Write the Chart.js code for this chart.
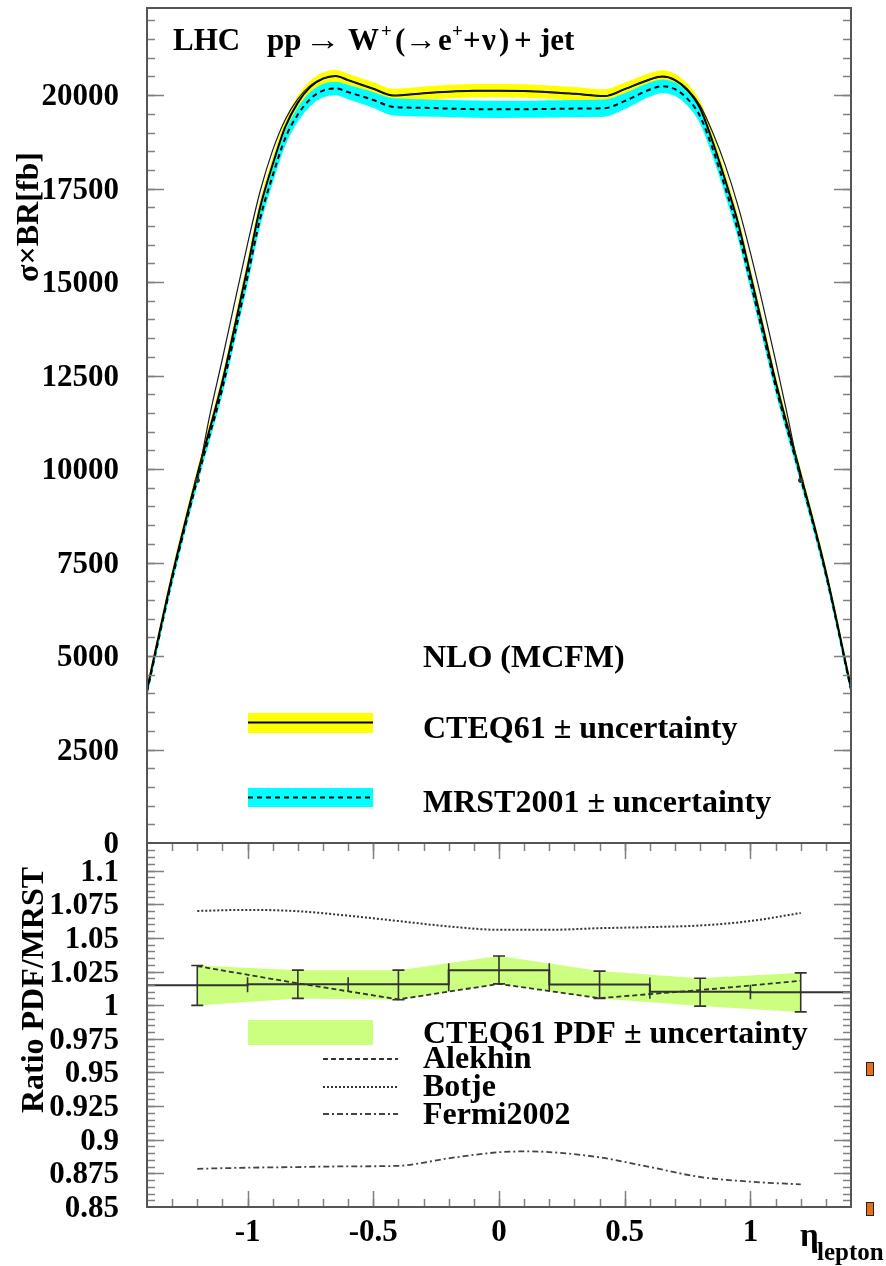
<!DOCTYPE html>
<html>
<head>
<meta charset="utf-8">
<script src="https://cdn.jsdelivr.net/npm/chart.js@4.4.1/dist/chart.umd.min.js"></script>
<style>
  html, body { margin: 0; padding: 0; background: #ffffff; }
  #wrap { position: relative; width: 886px; height: 1266px; overflow: hidden; background: #ffffff; }
  #wrap canvas { position: absolute; left: 0; top: 0; }
</style>
</head>
<body>
<div id="wrap">
  <canvas id="xsecChart" width="886" height="1266"></canvas>
  <canvas id="ratioChart" width="886" height="1266"></canvas>
</div>
<script>
// ---------- cross section vs lepton pseudorapidity (NLO, MCFM) ----------
const etaGrid = [-1.4, -1.3, -1.2, -1.1, -1.05, -1.0, -0.95, -0.9, -0.85, -0.8,
                 -0.75, -0.7, -0.65, -0.6, -0.5, -0.42, -0.3, -0.2, -0.1, 0,
                 0.1, 0.2, 0.3, 0.42, 0.5, 0.6, 0.65, 0.7, 0.75, 0.8,
                 0.85, 0.9, 0.95, 1.0, 1.05, 1.1, 1.2, 1.3, 1.4];

// CTEQ61 central value and its PDF uncertainty [fb]
const cteqXsec = [4100, 7150, 9850, 12350, 13850, 15400, 17000, 18150, 19150, 19800,
                  20220, 20440, 20510, 20400, 20170, 19990, 20050, 20090, 20115, 20120,
                  20110, 20080, 20035, 19975, 20160, 20420, 20495, 20400, 20130, 19650,
                  18750, 17720, 16600, 15200, 13780, 12350, 9850, 7250, 4150];
const cteqErr  = [40, 60, 80, 100, 110, 120, 130, 140, 145, 150,
                  150, 150, 150, 150, 155, 160, 160, 160, 160, 160,
                  160, 160, 160, 160, 155, 150, 150, 150, 150, 150,
                  145, 140, 130, 120, 110, 100, 80, 60, 40];

// MRST2001 central value and its uncertainty [fb]
const mrstXsec = [4040, 7050, 9720, 12170, 13640, 15150, 16700, 17850, 18850, 19480,
                  19900, 20120, 20180, 20080, 19870, 19685, 19660, 19640, 19625, 19620,
                  19622, 19630, 19640, 19650, 19840, 20150, 20240, 20160, 19900, 19430,
                  18560, 17520, 16380, 15000, 13620, 12220, 9760, 7180, 4100];
const mrstErr  = [40, 60, 80, 100, 110, 120, 130, 140, 150, 155,
                  160, 160, 160, 170, 190, 210, 210, 210, 210, 210,
                  210, 210, 210, 210, 190, 170, 160, 160, 160, 155,
                  150, 140, 130, 120, 110, 100, 80, 60, 40];

// CTEQ61 curve through the |eta| < 1.2 points
const etaInner  = [-1.2, -1.15, -1.1, -1.05, -1.0, -0.95, -0.9, -0.85, -0.8, -0.75,
                   -0.7, -0.65, -0.6, -0.5, -0.42, -0.3, -0.2, -0.1, 0, 0.1,
                   0.2, 0.3, 0.42, 0.5, 0.6, 0.65, 0.7, 0.75, 0.8, 0.85,
                   0.9, 0.95, 1.0, 1.05, 1.1, 1.15, 1.2];
const cteqInner = [9700, 11450, 12950, 14500, 16020, 17430, 18530, 19350, 19900, 20260,
                   20450, 20510, 20400, 20170, 19990, 20050, 20090, 20115, 20120, 20110,
                   20080, 20035, 19975, 20160, 20420, 20495, 20410, 20160, 19720, 19000,
                   18120, 17050, 15780, 14380, 12900, 11350, 9700];

const xsecMajorTicks  = [0, 2500, 5000, 7500, 10000, 12500, 15000, 17500, 20000];
const xsecTickLabels  = ['0', '2500', '5000', '7500', '10000', '12500', '15000', '17500', '20000'];

// ---------- ratio to MRST ----------
const binCenters  = [-1.2, -0.8, -0.4, 0, 0.4, 0.8, 1.2];
const binHalfWidth = 0.2;
const ratioCteq   = [1.0147, 1.0155, 1.0155, 1.0260, 1.0154, 1.0099, 1.0095];
const ratioUp     = [1.0295, 1.0260, 1.0260, 1.0365, 1.0253, 1.0200, 1.0240];
const ratioDown   = [0.9998, 1.0050, 1.0040, 1.0158, 1.0050, 0.9993, 0.9950];

const alekhin     = [1.0290, 1.0162, 1.0043, 1.0158, 1.0052, 1.0112, 1.0181];

const botjeEta    = [-1.2, -1.0, -0.8, -0.6, -0.4, -0.2, 0, 0.2, 0.4, 0.6, 0.8, 1.0, 1.2];
const botje       = [1.0700, 1.0708, 1.0698, 1.0665, 1.0625, 1.0585, 1.0560, 1.0560, 1.0572, 1.0580, 1.0592, 1.0625, 1.0685];

const fermiEta    = [-1.2, -1.0, -0.8, -0.6, -0.4, -0.2, 0, 0.1, 0.2, 0.4, 0.6, 0.8, 1.0, 1.2];
const fermi2002   = [0.8784, 0.8792, 0.8797, 0.8802, 0.8806, 0.8862, 0.8907, 0.8913, 0.8908, 0.8869, 0.8797, 0.8723, 0.8688, 0.8668];

const ratioMajorTicks = [0.85, 0.875, 0.9, 0.925, 0.95, 0.975, 1, 1.025, 1.05, 1.075, 1.1];
const ratioTickLabels = ['0.85', '0.875', '0.9', '0.925', '0.95', '0.975', '1', '1.025', '1.05', '1.075', '1.1'];

const etaMajorTicks = [-1, -0.5, 0, 0.5, 1];
const etaTickLabels = ['-1', '-0.5', '0', '0.5', '1'];

// ---------- helpers ----------
const SERIF = "'Liberation Serif', 'Times New Roman', 'DejaVu Serif', serif";
const font = (px) => `bold ${px}px ${SERIF}`;
const pts = (xs, ys) => xs.map((x, i) => ({ x: x, y: ys[i] }));
const offset = (ys, es, s) => ys.map((y, i) => y + s * es[i]);
const steps = (lo, hi, step) => {
  const out = [];
  const n = Math.round((hi - lo) / step);
  for (let i = 0; i <= n; i++) out.push(+(lo + i * step).toFixed(6));
  return out;
};

const FRAME = '#555555';
const TICK = '#808080';

function drawFrame(ctx, a) {
  ctx.save();
  ctx.strokeStyle = FRAME;
  ctx.lineWidth = 2;
  ctx.strokeRect(a.left, a.top, a.right - a.left, a.bottom - a.top);
  ctx.restore();
}

function drawYTicks(ctx, a, ys, values, len) {
  ctx.beginPath();
  for (const v of values) {
    const p = Math.round(ys.getPixelForValue(v)) + 0.5;
    if (p <= a.top + 1.5 || p >= a.bottom - 1.5) continue;
    ctx.moveTo(a.left, p); ctx.lineTo(a.left + len, p);
    ctx.moveTo(a.right, p); ctx.lineTo(a.right - len, p);
  }
  ctx.stroke();
}

function drawXTicks(ctx, a, xs, values, len) {
  ctx.beginPath();
  for (const v of values) {
    const p = Math.round(xs.getPixelForValue(v)) + 0.5;
    if (p <= a.left + 1.5 || p >= a.right - 1.5) continue;
    ctx.moveTo(p, a.top); ctx.lineTo(p, a.top + len);
    ctx.moveTo(p, a.bottom); ctx.lineTo(p, a.bottom - len);
  }
  ctx.stroke();
}

function drawYLabels(ctx, ys, values, labels, xRight) {
  ctx.save();
  ctx.fillStyle = '#000';
  ctx.font = font(31);
  ctx.textAlign = 'right';
  ctx.textBaseline = 'middle';
  values.forEach((v, i) => ctx.fillText(labels[i], xRight, ys.getPixelForValue(v) + 2));
  ctx.restore();
}

// pieces: [text, x, fontPx, dy, width (optional: stretch glyph to this width)]
function drawPlaced(ctx, y, pieces) {
  ctx.save();
  ctx.fillStyle = '#000';
  ctx.textAlign = 'left';
  ctx.textBaseline = 'alphabetic';
  for (const [txt, x, px, dy, w] of pieces) {
    ctx.font = font(px);
    if (w) {
      const natural = ctx.measureText(txt).width;
      ctx.save();
      ctx.translate(x, y + dy);
      ctx.scale(w / natural, 1);
      ctx.fillText(txt, 0, 0);
      ctx.restore();
    } else {
      ctx.fillText(txt, x, y + dy);
    }
  }
  ctx.restore();
}

function drawText(ctx, txt, x, y, px, align) {
  ctx.save();
  ctx.fillStyle = '#000';
  ctx.font = font(px);
  ctx.textAlign = align || 'left';
  ctx.textBaseline = 'alphabetic';
  ctx.fillText(txt, x, y);
  ctx.restore();
}

function drawVerticalTitle(ctx, txt, x, yCenter, px) {
  ctx.save();
  ctx.translate(x, yCenter);
  ctx.rotate(-Math.PI / 2);
  ctx.fillStyle = '#000';
  ctx.font = font(px);
  ctx.textAlign = 'center';
  ctx.textBaseline = 'alphabetic';
  ctx.fillText(txt, 0, 0);
  ctx.restore();
}

// ---------- upper panel decorations ----------
const xsecDecor = {
  id: 'xsecDecor',
  afterDatasetsDraw(chart) {
    const { ctx, chartArea: a, scales: { y } } = chart;
    ctx.save();
    ctx.strokeStyle = TICK;
    ctx.lineWidth = 1.5;
    drawYTicks(ctx, a, y, steps(0, 22000, 500), 8);
    drawYTicks(ctx, a, y, xsecMajorTicks, 17);
    ctx.restore();
    drawFrame(ctx, a);
    drawYLabels(ctx, y, xsecMajorTicks, xsecTickLabels, 119);
    drawVerticalTitle(ctx, 'σ×BR[fb]', 38, 217, 32);

    drawPlaced(ctx, 50, [
      ['LHC', 173, 31, 0], ['pp', 267, 31, 0], ['\u2192', 305, 31, 0, 36],
      ['W', 348, 31, 0], ['+', 381, 19, -13], ['(', 395, 31, 0], ['\u2192', 405, 31, 0, 32],
      ['e', 438, 31, 0], ['+', 452, 19, -13], ['+', 463, 31, 0], ['\u03BD', 482, 31, 0],
      [')', 499, 31, 0], ['+', 514, 31, 0], ['jet', 540, 31, 0]
    ]);

    // legend
    drawText(ctx, 'NLO (MCFM)', 423, 667, 32);
    ctx.save();
    ctx.fillStyle = '#ffff00';
    ctx.fillRect(248, 713, 125, 20);
    ctx.strokeStyle = '#000';
    ctx.lineWidth = 2;
    ctx.beginPath(); ctx.moveTo(248, 722.5); ctx.lineTo(373, 722.5); ctx.stroke();
    ctx.fillStyle = '#00ffff';
    ctx.fillRect(248, 788, 125, 19);
    ctx.setLineDash([5, 4]);
    ctx.beginPath(); ctx.moveTo(248, 797.5); ctx.lineTo(373, 797.5); ctx.stroke();
    ctx.restore();
    drawText(ctx, 'CTEQ61 \u00B1 uncertainty', 423, 738, 32);
    drawText(ctx, 'MRST2001 \u00B1 uncertainty', 423, 812, 32);
  }
};

new Chart(document.getElementById('xsecChart'), {
  type: 'line',
  data: {
    datasets: [
      { label: 'CTEQ61 |eta|<1.2', data: pts(etaInner, cteqInner), borderColor: '#1a1a1a', borderWidth: 1.2,
        pointRadius: (c) => (c.dataIndex === 0 || c.dataIndex === etaInner.length - 1) ? 2.6 : 0,
        pointBackgroundColor: '#333', pointBorderWidth: 0, order: 0 },
      { label: 'CTEQ61', data: pts(etaGrid, cteqXsec), borderColor: '#000', borderWidth: 2, order: 0 },
      { label: 'MRST2001', data: pts(etaGrid, mrstXsec), borderColor: '#000', borderWidth: 2, borderDash: [5, 4], order: 0 },
      { label: 'MRST2001 +', data: pts(etaGrid, offset(mrstXsec, mrstErr, 1)), borderColor: '#00ffff', borderWidth: 1.5, fill: false, order: 1 },
      { label: 'MRST2001 -', data: pts(etaGrid, offset(mrstXsec, mrstErr, -1)), borderColor: '#00ffff', borderWidth: 1.5,
        backgroundColor: '#00ffff', fill: '-1', order: 1 },
      { label: 'CTEQ61 +', data: pts(etaGrid, offset(cteqXsec, cteqErr, 1)), borderColor: '#ffff00', borderWidth: 1.5, fill: false, order: 2 },
      { label: 'CTEQ61 -', data: pts(etaGrid, offset(cteqXsec, cteqErr, -1)), borderColor: '#ffff00', borderWidth: 1.5,
        backgroundColor: '#ffff00', fill: '-1', order: 2 }
    ]
  },
  options: {
    responsive: false,
    animation: false,
    events: [],
    layout: { padding: { left: 147, top: 8, right: 35, bottom: 423 } },
    elements: { point: { radius: 0 }, line: { cubicInterpolationMode: 'monotone' } },
    scales: {
      x: { type: 'linear', min: -1.4, max: 1.4, display: false },
      y: { type: 'linear', min: 0, max: 22330, display: false }
    },
    plugins: { legend: { display: false }, tooltip: { enabled: false } }
  },
  plugins: [xsecDecor]
});

// ---------- lower panel decorations ----------
const ratioDecor = {
  id: 'ratioDecor',
  afterDatasetsDraw(chart) {
    const { ctx, chartArea: a, scales: { x, y } } = chart;

    // error bars of the CTEQ61 / MRST ratio
    ctx.save();
    ctx.beginPath();
    ctx.rect(a.left, a.top, a.right - a.left, a.bottom - a.top);
    ctx.clip();
    ctx.strokeStyle = '#333';
    ctx.lineWidth = 1.6;
    ctx.beginPath();
    binCenters.forEach((c, i) => {
      const px = x.getPixelForValue(c);
      const pu = y.getPixelForValue(ratioUp[i]);
      const pd = y.getPixelForValue(ratioDown[i]);
      const pv = y.getPixelForValue(ratioCteq[i]);
      ctx.moveTo(px, pu); ctx.lineTo(px, pd);
      ctx.moveTo(px - 6, pu); ctx.lineTo(px + 6, pu);
      ctx.moveTo(px - 6, pd); ctx.lineTo(px + 6, pd);
      const l = x.getPixelForValue(c - binHalfWidth);
      const r = x.getPixelForValue(c + binHalfWidth);
      ctx.moveTo(l, pv - 7); ctx.lineTo(l, pv + 7);
      ctx.moveTo(r, pv - 7); ctx.lineTo(r, pv + 7);
    });
    ctx.stroke();
    ctx.restore();

    ctx.save();
    ctx.strokeStyle = TICK;
    ctx.lineWidth = 1.5;
    drawYTicks(ctx, a, y, steps(0.85, 1.12, 0.005), 8);
    drawYTicks(ctx, a, y, ratioMajorTicks, 17);
    drawXTicks(ctx, a, x, steps(-1.4, 1.4, 0.1), 8);
    drawXTicks(ctx, a, x, etaMajorTicks, 16);
    ctx.restore();
    drawFrame(ctx, a);

    drawYLabels(ctx, y, ratioMajorTicks, ratioTickLabels, 119);
    etaMajorTicks.forEach((v, i) => drawText(ctx, etaTickLabels[i], x.getPixelForValue(v), 1241, 31, 'center'));
    drawText(ctx, '\u03B7', 800, 1246, 33);
    drawText(ctx, 'lepton', 817, 1260, 25);
    drawVerticalTitle(ctx, 'Ratio PDF/MRST', 43, 990, 32);

    // legend
    ctx.save();
    ctx.fillStyle = '#ccff80';
    ctx.fillRect(248, 1020, 125, 25);
    ctx.lineWidth = 1.8;
    ctx.strokeStyle = '#333';
    ctx.setLineDash([5, 3]);
    ctx.beginPath(); ctx.moveTo(323, 1059); ctx.lineTo(398, 1059); ctx.stroke();
    ctx.strokeStyle = '#333';
    ctx.lineWidth = 2;
    ctx.setLineDash([2, 2]);
    ctx.beginPath(); ctx.moveTo(323, 1087); ctx.lineTo(398, 1087); ctx.stroke();
    ctx.strokeStyle = '#444';
    ctx.lineWidth = 1.8;
    ctx.setLineDash([6, 3, 2, 3]);
    ctx.beginPath(); ctx.moveTo(323, 1114); ctx.lineTo(398, 1114); ctx.stroke();
    ctx.restore();
    drawText(ctx, 'CTEQ61 PDF \u00B1 uncertainty', 423, 1043, 32);
    drawText(ctx, 'Alekhin', 423, 1068, 32);
    drawText(ctx, 'Botje', 423, 1096, 32);
    drawText(ctx, 'Fermi2002', 423, 1124, 32);

    // small page markers at the right edge
    ctx.save();
    ctx.fillStyle = '#e8701a';
    ctx.strokeStyle = '#222';
    ctx.lineWidth = 1;
    ctx.fillRect(866, 1062, 8, 14); ctx.strokeRect(866.5, 1062.5, 7, 13);
    ctx.fillRect(866, 1202, 8, 14); ctx.strokeRect(866.5, 1202.5, 7, 13);
    ctx.restore();
  }
};

const histEta = [-1.4].concat(binCenters, [1.4]);
const histVal = [ratioCteq[0]].concat(ratioCteq, [ratioCteq[ratioCteq.length - 1]]);

new Chart(document.getElementById('ratioChart'), {
  type: 'line',
  data: {
    datasets: [
      { label: 'CTEQ61/MRST', data: pts(histEta, histVal), borderColor: '#333', borderWidth: 2, stepped: 'middle', order: 0 },
      { label: 'Alekhin', data: pts(binCenters, alekhin), borderColor: '#333', borderWidth: 1.8, borderDash: [5, 3], order: 0 },
      { label: 'Botje', data: pts(botjeEta, botje), borderColor: '#333', borderWidth: 2, borderDash: [2, 2],
        cubicInterpolationMode: 'monotone', order: 0 },
      { label: 'Fermi2002', data: pts(fermiEta, fermi2002), borderColor: '#444', borderWidth: 1.8, borderDash: [6, 3, 2, 3],
        cubicInterpolationMode: 'monotone', order: 0 },
      { label: 'CTEQ61 PDF +', data: pts(binCenters, ratioUp), borderColor: '#ccff80', borderWidth: 0, fill: false, order: 1 },
      { label: 'CTEQ61 PDF -', data: pts(binCenters, ratioDown), borderColor: '#ccff80', borderWidth: 0,
        backgroundColor: '#ccff80', fill: '-1', order: 1 }
    ]
  },
  options: {
    responsive: false,
    animation: false,
    events: [],
    layout: { padding: { left: 147, top: 843, right: 35, bottom: 59 } },
    elements: { point: { radius: 0 }, line: { tension: 0 } },
    scales: {
      x: { type: 'linear', min: -1.4, max: 1.4, display: false },
      y: { type: 'linear', min: 0.85, max: 1.1205, display: false }
    },
    plugins: { legend: { display: false }, tooltip: { enabled: false } }
  },
  plugins: [ratioDecor]
});
</script>
</body>
</html>
